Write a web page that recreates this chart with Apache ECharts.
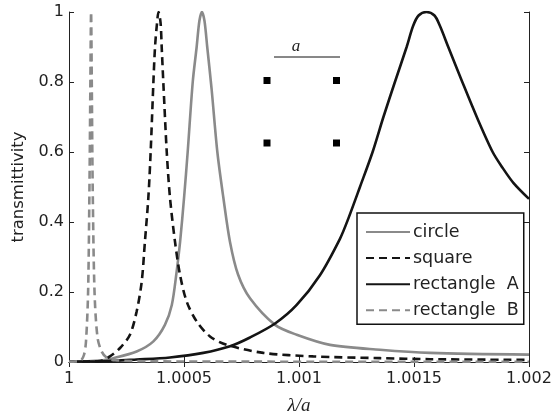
<!DOCTYPE html>
<html>
<head>
  <meta charset="UTF-8" />
  <title>transmittivity</title>
  <script src="https://cdn.jsdelivr.net/npm/echarts@6/dist/echarts.min.js"></script>
  <style>
    body { margin: 0; padding: 0; background: #fff; }
    #main { width: 556px; height: 420px; }
  </style>
</head>
<body>
  <div id="main"></div>
  <script>
    // values: [lambda/a, transmittivity]
    const circle = [
      [1.0, 0.001], [1.000135, 0.004], [1.000193, 0.011], [1.000294, 0.030],
      [1.000367, 0.059], [1.000417, 0.106], [1.000447, 0.163], [1.000468, 0.258],
      [1.000483, 0.343], [1.000501, 0.475], [1.000516, 0.6], [1.000538, 0.8],
      [1.000555, 0.9], [1.000567, 0.975], [1.000578, 1.0], [1.000589, 0.975],
      [1.000601, 0.9], [1.000620, 0.78], [1.000645, 0.6], [1.000671, 0.47],
      [1.000700, 0.343], [1.000735, 0.25], [1.000787, 0.182], [1.000896, 0.106],
      [1.000990, 0.078], [1.001135, 0.049], [1.001352, 0.035], [1.001570, 0.026],
      [1.002, 0.021]
    ];
    const square = [
      [1.0, 0.001], [1.000135, 0.003], [1.000178, 0.016], [1.000222, 0.040],
      [1.000265, 0.078], [1.000294, 0.144], [1.000316, 0.229], [1.000330, 0.343],
      [1.000345, 0.47], [1.000355, 0.6], [1.000367, 0.8], [1.000374, 0.9],
      [1.000383, 0.97], [1.000389, 1.0], [1.000398, 0.97], [1.000403, 0.9],
      [1.000410, 0.8], [1.000425, 0.6], [1.000439, 0.47], [1.000461, 0.343],
      [1.000483, 0.248], [1.000512, 0.172], [1.000555, 0.116], [1.000613, 0.073],
      [1.000686, 0.049], [1.000845, 0.026], [1.001062, 0.016], [1.001352, 0.011],
      [1.001570, 0.008], [1.002, 0.006]
    ];
    const rectA = [
      [1.0, 0.001], [1.000148, 0.002], [1.000294, 0.007], [1.000439, 0.013],
      [1.000584, 0.026], [1.000700, 0.045], [1.000787, 0.07], [1.000896, 0.11],
      [1.000990, 0.163], [1.001091, 0.248], [1.001178, 0.352], [1.001214, 0.409],
      [1.001265, 0.5], [1.001320, 0.6], [1.001367, 0.7], [1.001417, 0.8],
      [1.001468, 0.9], [1.001496, 0.96], [1.001520, 0.99], [1.001554, 1.0],
      [1.001589, 0.99], [1.001613, 0.96], [1.001649, 0.9], [1.001710, 0.8],
      [1.001773, 0.7], [1.001842, 0.6], [1.001885, 0.555], [1.001932, 0.512],
      [1.002, 0.466]
    ];
    const rectB = [
      [1.0, 0.001], [1.000048, 0.003], [1.000065, 0.02], [1.000074, 0.06],
      [1.000083, 0.2], [1.000089, 0.5], [1.000093, 0.8], [1.000096, 1.0],
      [1.000099, 0.8], [1.000103, 0.5], [1.000111, 0.2], [1.000124, 0.07],
      [1.000142, 0.03], [1.000165, 0.012], [1.000200, 0.005], [1.000352, 0.002],
      [1.000787, 0.001], [1.002, 0.0005]
    ];
    const seriesNames = ['circle', 'square', 'rectangle  A', 'rectangle  B'];
    const xTicks = ['1', '1.0005', '1.001', '1.0015', '1.002'];
    const yTicks = ['0', '0.2', '0.4', '0.6', '0.8', '1'];

    const GRAY = '#8a8a8a';
    const BLACK = '#141414';
    const FONT = 'DejaVu Sans';

    const chart = echarts.init(document.getElementById('main'));

    const frame = { show: true, lineStyle: { color: '#222', width: 1 } };
    const tick = { show: true, inside: true, length: 5, lineStyle: { color: '#222' } };

    function line(name, data, color, dashed) {
      return {
        name: name,
        type: 'line',
        data: data,
        symbol: 'none',
        smooth: 0.3,
        lineStyle: { color: color, width: 2.6, type: dashed ? [8, 5] : 'solid' },
        itemStyle: { color: color },
        animation: false
      };
    }

    chart.setOption({
      backgroundColor: '#fff',
      animation: false,
      grid: { left: 69, right: 27, top: 12, bottom: 56 },
      xAxis: [{
        type: 'value', min: 1, max: 1.002, interval: 0.0005,
        name: 'λ/a', nameLocation: 'middle', nameGap: 34,
        nameTextStyle: { fontFamily: 'Liberation Serif', fontStyle: 'italic', fontSize: 19, color: '#222' },
        axisLine: frame, axisTick: tick, splitLine: { show: false },
        axisLabel: {
          margin: 9, fontFamily: FONT, fontSize: 16, color: '#222',
          formatter: v => xTicks[Math.round((v - 1) / 0.0005)]
        }
      }, {
        type: 'value', min: 1, max: 1.002, interval: 0.0005, position: 'top',
        axisLine: frame, axisTick: tick, axisLabel: { show: false }, splitLine: { show: false }
      }],
      yAxis: [{
        type: 'value', min: 0, max: 1, interval: 0.2,
        name: 'transmittivity', nameLocation: 'middle', nameGap: 40,
        nameTextStyle: { fontFamily: FONT, fontSize: 16.5, color: '#222' },
        axisLine: frame, axisTick: tick, splitLine: { show: false },
        axisLabel: {
          margin: 5, fontFamily: FONT, fontSize: 16, color: '#222',
          formatter: v => yTicks[Math.round(v / 0.2)]
        }
      }, {
        type: 'value', min: 0, max: 1, interval: 0.2, position: 'right',
        axisLine: frame, axisTick: tick, axisLabel: { show: false }, splitLine: { show: false }
      }],
      legend: {
        orient: 'vertical',
        left: 357, top: 213,
        padding: [10, 5, 5, 8],
        itemWidth: 44, itemHeight: 14, itemGap: 8.1,
        backgroundColor: '#fff',
        borderColor: '#111', borderWidth: 1.5, borderRadius: 0,
        itemStyle: { opacity: 0 },
        textStyle: { fontFamily: FONT, fontSize: 17.5, color: '#222', padding: [0, 0, 0, -2] },
        data: seriesNames
      },
      // sketch of the lattice cell in the corner
      graphic: [
        { type: 'line', shape: { x1: 274, y1: 57, x2: 340, y2: 57 }, style: { stroke: '#111', lineWidth: 1 } },
        { type: 'text', x: 296, y: 47, style: { text: 'a', font: 'italic 17px "Liberation Serif"', fill: '#222', textAlign: 'center', textVerticalAlign: 'middle' } },
        { type: 'rect', shape: { x: 263.5, y: 77, width: 7, height: 7 }, style: { fill: '#000' } },
        { type: 'rect', shape: { x: 333, y: 77, width: 7, height: 7 }, style: { fill: '#000' } },
        { type: 'rect', shape: { x: 263.5, y: 139.5, width: 7, height: 7 }, style: { fill: '#000' } },
        { type: 'rect', shape: { x: 333, y: 139.5, width: 7, height: 7 }, style: { fill: '#000' } }
      ],
      series: [
        line(seriesNames[0], circle, GRAY, false),
        line(seriesNames[1], square, BLACK, true),
        line(seriesNames[2], rectA, BLACK, false),
        line(seriesNames[3], rectB, GRAY, true)
      ]
    });
  </script>
</body>
</html>
